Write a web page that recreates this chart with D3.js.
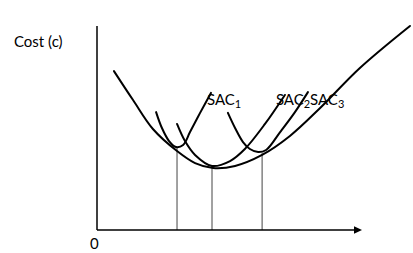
<!DOCTYPE html>
<html>
<head>
<meta charset="utf-8">
<script src="https://cdn.jsdelivr.net/npm/d3@7"></script>
<style>
  html, body { margin: 0; padding: 0; background: #fff; }
  svg { display: block; }
  text { font-family: Lato, "Open Sans", sans-serif; fill: #000; }
</style>
</head>
<body>
<svg id="chart" width="413" height="253"></svg>
<script>
// ---- data (quantity units 0-100, cost units 0-100) ----
const lacQ  = [6.4, 13.6, 21.1, 30.2, 37.0, 43.8, 52.1, 62.3, 72.8, 84.2, 99.2, 118.1];
const lacC  = [77.9, 63.7, 49.5, 38.7, 32.8, 30.4, 31.4, 36.8, 46.1, 59.8, 79.4, 100];
const sac1Q = [22.3, 24.5, 27.2, 29.8, 32.5, 35.1, 38.9, 43.0];
const sac1C = [57.8, 50.0, 43.6, 40.7, 41.7, 48.0, 57.4, 67.2];
const sac2Q = [30.2, 33.2, 37.0, 43.4, 50.2, 55.8, 63.4, 70.9];
const sac2C = [52.0, 43.6, 36.8, 31.4, 33.8, 39.7, 52.0, 66.2];
const sac3Q = [49.4, 52.1, 55.1, 57.7, 60.8, 63.8, 69.1, 74.7, 79.6];
const sac3C = [57.4, 50.0, 43.1, 39.7, 38.2, 39.2, 48.0, 57.8, 67.6];
const dropQ = [30.2, 43.4, 62.3];
const dropC = [40.7, 31.4, 37.7];
const labelNames = ["SAC", "SAC", "SAC"];
const labelSubs  = ["1", "2", "3"];
const labelQ = [41.5, 67.5, 80.4];
const labelC = [61.3, 61.3, 61.3];
const yTitle = "Cost (c)";
const originLabel = "0";

// ---- scales ----
const svg = d3.select("#chart");
const x = d3.scaleLinear().domain([0, 100]).range([97, 362]);
const y = d3.scaleLinear().domain([0, 100]).range([230, 26]);

const line = d3.line().x(d => x(d[0])).y(d => y(d[1])).curve(d3.curveCatmullRom.alpha(0.5));
const zip = (a, b) => a.map((v, i) => [v, b[i]]);

// drop lines
svg.append("g").selectAll("line").data(d3.range(dropQ.length)).join("line")
  .attr("x1", i => x(dropQ[i])).attr("x2", i => x(dropQ[i]))
  .attr("y1", i => y(dropC[i])).attr("y2", y(0))
  .attr("stroke", "#444").attr("stroke-width", 1);

// curves
[[lacQ, lacC], [sac1Q, sac1C], [sac2Q, sac2C], [sac3Q, sac3C]].forEach(([q, c]) => {
  svg.append("path").attr("d", line(zip(q, c)))
    .attr("fill", "none").attr("stroke", "#000").attr("stroke-width", 2)
    .attr("stroke-linecap", "round");
});

// axes
svg.append("line").attr("x1", x(0)).attr("x2", x(0)).attr("y1", y(0)).attr("y2", y(100))
  .attr("stroke", "#000").attr("stroke-width", 1.5);
svg.append("line").attr("x1", x(0)).attr("x2", x(100) - 6).attr("y1", y(0)).attr("y2", y(0))
  .attr("stroke", "#000").attr("stroke-width", 1.5);
svg.append("path")
  .attr("d", `M${x(100)},${y(0)} L${x(100) - 8},${y(0) - 3.8} L${x(100) - 8},${y(0) + 3.8} Z`)
  .attr("fill", "#000");

// labels
const lbl = svg.append("g").selectAll("text").data(d3.range(labelNames.length)).join("text")
  .attr("x", i => x(labelQ[i])).attr("y", i => y(labelC[i]))
  .attr("font-size", 15);
lbl.append("tspan").text(i => labelNames[i]);
lbl.append("tspan").attr("font-size", 11).attr("dy", 3).text(i => labelSubs[i]);

svg.append("text").attr("x", 14).attr("y", 47).attr("font-size", 15).text(yTitle);
svg.append("text").attr("x", 90).attr("y", 249).attr("font-size", 15).text(originLabel);
</script>
</body>
</html>
